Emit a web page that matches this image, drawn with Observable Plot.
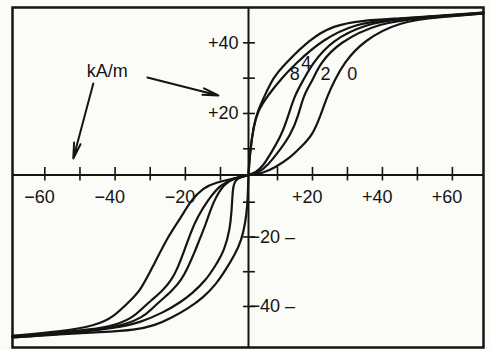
<!DOCTYPE html>
<html><head><meta charset="utf-8">
<script src="https://cdn.jsdelivr.net/npm/d3@7"></script>
<script src="https://cdn.jsdelivr.net/npm/@observablehq/plot@0.6"></script>
<style>
html,body{margin:0;padding:0;background:#fdfdfb;}
#chart svg{display:block;}
</style></head><body><div id="chart"></div>
<script>
// Field strength H (kA/m) vs. magnetisation.
// First quadrant
const q1_steep = [[0,0],[0.2,3.6],[0.6,9.4],[1.8,16.6],[3.1,20.6],[5.6,25.1],[8.6,30.2],[11.7,33.6],[19.4,41.2],[26,44.9],[33.7,46.3],[45.1,46.9],[56.6,47.7],[68.9,48.6]];
const q1_8 = [[0,0],[0.2,3.6],[0.6,9.4],[1.8,16.6],[3.3,20.8],[6.6,25.1],[11.4,30.2],[14.6,33.6],[23.1,41.2],[32.9,45.5],[41.4,46.6],[56.6,47.6],[68.9,48.5]];
const q1_4 = [[0,0],[2.4,0.8],[5.2,3.6],[8.3,9.4],[11.1,13.8],[13.1,19.4],[14.9,25.1],[17.3,29.3],[19.8,33.9],[25.4,40.7],[35.7,45.5],[45.1,46.8],[56.6,47.6],[68.9,48.4]];
const q1_2 = [[0,0],[3.4,0.8],[6.6,3.6],[10.6,9.4],[13.7,13.8],[16,19.4],[17.4,25.1],[20,29.3],[22,33.9],[27.4,40.1],[39.4,45.8],[50.9,47],[68.9,48.3]];
const q1_0 = [[0,0],[4.8,0.6],[9.3,2.9],[13.7,6.7],[16.6,10.4],[20,13.8],[22.3,19.4],[24.3,25.1],[26.3,29.3],[28.9,34.2],[34.6,40.7],[45.1,46.1],[56.6,47.3],[68.9,48.3]];
// Third quadrant
const q3_steep = [[0,0],[-0.2,-5.7],[-0.4,-10.9],[-1.1,-15.8],[-2.5,-21],[-5,-25.3],[-7.9,-29.1],[-11.1,-33.4],[-14.8,-37.4],[-19.1,-40.5],[-24.2,-43.4],[-28.5,-45.4],[-34.2,-46.8],[-44.2,-47.4],[-55.6,-48],[-69.2,-48.9]];
const q3_8 = [[0,0],[-5.4,-1.3],[-5.7,-7.5],[-6.1,-13],[-6.6,-17.6],[-8.6,-23.9],[-11.4,-28.2],[-14.2,-32.5],[-18,-36.2],[-21.4,-38.8],[-26.2,-41.7],[-32.8,-44.6],[-39.1,-46.1],[-55.6,-48],[-69.2,-48.9]];
const q3_4 = [[0,0],[-5.4,-1.3],[-8.6,-3.1],[-12,-9.4],[-14.3,-16.7],[-15.7,-20],[-17.4,-24.5],[-19.4,-29],[-21.2,-32.5],[-23.9,-35.6],[-27.1,-38.4],[-29.4,-40.5],[-31.9,-43.1],[-39.9,-46.3],[-55.6,-47.7],[-69.2,-48.7]];
const q3_2 = [[0,0],[-5.4,-1.3],[-10,-3.5],[-13.7,-9.4],[-16.6,-14.4],[-18.4,-18.5],[-20.5,-24.5],[-22.2,-29],[-24,-32.5],[-26.6,-35.6],[-29.9,-38.4],[-32.2,-40.5],[-34.8,-43.1],[-40.8,-46],[-55.6,-47.5],[-69.2,-48.6]];
const q3_0 = [[0,0],[-5.4,-1.3],[-11.4,-2.8],[-14.8,-4.6],[-18.5,-9.4],[-21.4,-14.7],[-24.8,-19.6],[-29.4,-28.8],[-32.8,-35.4],[-35.6,-38.2],[-40.5,-43.1],[-45.6,-45.5],[-55.6,-47.2],[-69.2,-48.4]];

const xTicks = [-60,-50,-40,-30,-20,-10,10,20,30,40,50,60];
const xLabelValues = [-60,-40,-20,20,40,60];
const xLabelTexts = ["−60","−40","−20","+20","+40","+60"];
const yTicks = [-40,-30,-20,-10,10,20,30,40];
const yPosLabelValues = [20,40];
const yPosLabelTexts = ["+20","+40"];
const yNegLabelValues = [-20,-40];
const yNegLabelTexts = ["−20 –","−40 –"];
const curveLabels = ["8","4","2","0"];
const curveLabelH = [14.9,18.2,23.7,31.4];
const curveLabelM = [31,34.1,31,31];
const unitText = "kA/m";
const unitAt = [-42.2, 31.9];
const arrowFromH = [-30.8,-46.2];
const arrowFromM = [30.2,28.5];
const arrowToH = [-10.6,-51.9];
const arrowToM = [25.1,6.3];

const series = [
  ["q1s", q1_steep],["q18", q1_8],["q14", q1_4],["q12", q1_2],["q10", q1_0],
  ["q3s", q3_steep],["q38", q3_8],["q34", q3_4],["q32", q3_2],["q30", q3_0]
];
const lineData = series.flatMap(([id, pts]) => pts.map(([h, m]) => ({id, h, m})));
const ink = "#141414";
const font = "Liberation Sans, Arial, sans-serif";

const chart = Plot.plot({
  width: 491, height: 350,
  marginLeft: 12, marginRight: 8, marginTop: 7, marginBottom: 3,
  style: {background: "#fbfbf8", fontFamily: font},
  x: {type: "linear", domain: [-69.2, -10, 0, 10, 68.9], range: [12, 220, 248, 277, 483], axis: null},
  y: {type: "linear", domain: [-51.8, -10, 0, 10, 50], range: [347, 201.7, 174.5, 148.3, 7], axis: null},
  marks: [
    Plot.ruleY([0], {stroke: ink, strokeWidth: 2}),
    Plot.ruleX([0], {stroke: ink, strokeWidth: 2}),
    Plot.ruleX(xTicks, {x: d => d, y1: -2.2, y2: 2.9, stroke: ink, strokeWidth: 1.6}),
    Plot.ruleY(yTicks, {y: d => d, x1: -1.8, x2: 2.4, stroke: ink, strokeWidth: 1.6}),
    Plot.line(lineData, {x: "h", y: "m", z: "id", curve: "basis", stroke: ink, strokeWidth: 2.2}),
    Plot.text(xLabelValues, {x: d => d, y: 0, text: (d, i) => xLabelTexts[i], dy: 22, dx: 10, textAnchor: "end", fontSize: 18, fill: ink, style: "letter-spacing:1px"}),
    Plot.text(yPosLabelValues, {x: 0, y: d => d, text: (d, i) => yPosLabelTexts[i], dx: -10, textAnchor: "end", fontSize: 18, fill: ink}),
    Plot.text(yNegLabelValues, {x: 0, y: d => d, text: (d, i) => yNegLabelTexts[i], dx: 1, textAnchor: "start", fontSize: 18, fill: ink}),
    Plot.text(curveLabels, {x: (d, i) => curveLabelH[i], y: (d, i) => curveLabelM[i], text: d => d, fontSize: 18, fill: ink}),
    Plot.text([unitText], {x: unitAt[0], y: unitAt[1], text: d => d, fontSize: 18, fill: ink, style: "letter-spacing:3px"}),
    Plot.arrow([0, 1], {x1: i => arrowFromH[i], y1: i => arrowFromM[i], x2: i => arrowToH[i], y2: i => arrowToM[i], stroke: ink, strokeWidth: 2, headAngle: 24, headLength: 12}),
    Plot.frame({stroke: ink, strokeWidth: 2.5})
  ]
});
document.getElementById("chart").append(chart);
</script>
</body></html>
